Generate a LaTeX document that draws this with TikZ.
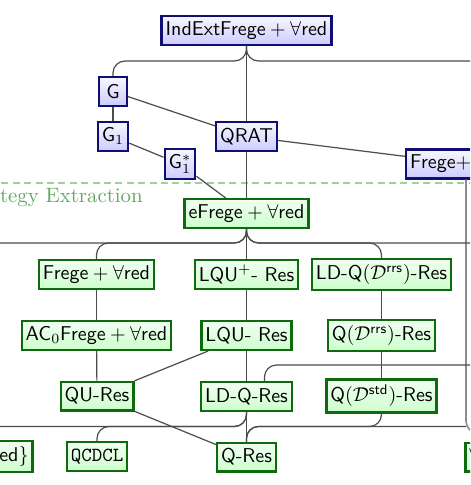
\documentclass[tikz,border=0pt]{standalone}
\usetikzlibrary{calc}
\definecolor{bluebd}{rgb}{0.06,0.06,0.45}
\definecolor{greenbd}{rgb}{0.05,0.42,0.05}
\definecolor{sefg}{rgb}{0.38,0.66,0.38}
\definecolor{sedash}{rgb}{0.62,0.82,0.62}
\definecolor{edgec}{rgb}{0.3,0.3,0.3}
\tikzset{
  psbox/.style={draw, line width=1.2pt, inner xsep=2pt, inner ysep=2.7pt,
    minimum height=14.3pt, minimum width=13.8pt, font=\sffamily},
  bluebox/.style={psbox, draw=bluebd, top color=blue!3, bottom color=blue!20},
  greenbox/.style={psbox, draw=greenbd, top color=green!5, bottom color=green!20},
  conn/.style={draw=edgec, line width=0.6pt},
  fork/.style={conn, rounded corners=6pt},
  greyfork/.style={draw=black!45, line width=0.8pt, rounded corners=6pt},
  sepline/.style={draw=sedash, line width=0.7pt, dash pattern=on 3.5pt off 2.2pt},
}
\begin{document}
\begin{tikzpicture}[x=0.5pt,y=-0.5pt]
\useasboundingbox (0,0) rectangle (470,485);
\fill[white] (0,0) rectangle (470,485);
\clip (0,0) rectangle (470,485);

% level coordinates and off-picture ends
\coordinate (lv1) at (0,61);
\coordinate (lv2) at (0,243);
\coordinate (lv4) at (0,426.5);
\coordinate (offA) at (560,200);
\coordinate (offB) at (-80,300);
\coordinate (offC) at (560,300);
\coordinate (offD) at (560,433);
\coordinate (offE) at (-80,480);
\coordinate (offF) at (560,365);
\coordinate (jR) at (466,426.5);
\coordinate (dl) at (-10,183);
\coordinate (dr) at (480,183);

% strategy extraction separator
\draw[sepline] (dl) -- (dr);
\node[anchor=base east, inner sep=0, text=sefg, font=\fontsize{10.4}{12}\selectfont] (se) at (143,202.5) {Strategy Extraction};

% blue nodes
\node[bluebox] (ind) at (246.5,30.5) {$\mathsf{IndExtFrege}+\forall\mathsf{red}$};
\node[bluebox] (g) at (113,91.5) {G};
\node[bluebox] (g1) at (113,136.5) {$\mathsf{G}_1$};
\node[bluebox] (g1s) at (180,164) {$\mathsf{G}_1^*$};
\node[bluebox] (qrat) at (246.5,136.5) {QRAT};
\node[bluebox, text width=55.8pt, align=left] (fregeb) at (466,164) {Frege+$\forall$red};

% green nodes
\node[greenbox] (efrege) at (246.5,213.5) {$\mathsf{eFrege}+\forall\mathsf{red}$};
\node[greenbox] (fregeg) at (96.5,274.5) {$\mathsf{Frege}+\forall\mathsf{red}$};
\node[greenbox] (lqup) at (246.5,274.5) {LQU$^+$- Res};
\node[greenbox] (ldqrrs) at (381.5,274.5) {LD-Q$(\mathcal{D}^{\mathsf{rrs}})$-Res};
\node[greenbox] (ac0) at (96.5,335.5) {$\mathsf{AC}_0\mathsf{Frege}+\forall\mathsf{red}$};
\node[greenbox] (lqu) at (246.5,335.5) {LQU- Res};
\node[greenbox] (qrrs) at (381.5,335.5) {Q$(\mathcal{D}^{\mathsf{rrs}})$-Res};
\node[greenbox] (qu) at (97,396) {QU-Res};
\node[greenbox] (ldq) at (246.5,396.5) {LD-Q-Res};
\node[greenbox] (qstd) at (381.5,396) {Q$(\mathcal{D}^{\mathsf{std}})$-Res};
\node[greenbox] (qcdcl) at (97,456.5) {\texttt{QCDCL}};
\node[greenbox] (qres) at (246.5,457) {Q-Res};
\node[greenbox, anchor=east] (edn) at (33.8,456.5) {$\mathsf{QRAT}\{\forall\mathsf{red}\}$};
\node[greenbox, anchor=west] (aexp) at (464.2,457) {$\forall\mathsf{Exp}+\mathsf{Res}$};

% connectors
\draw[fork] (ind.south) -- (ind.south |- lv1) -| (g.north);
\draw[fork] (ind.south) -- (ind.south |- lv1) -| (offA);
\draw[conn] (ind) -- (qrat);
\draw[conn] (g) -- (qrat);
\draw[conn] (g) -- (g1);
\draw[conn] (g1) -- (g1s);
\draw[conn] (g1s) -- (efrege);
\draw[conn] (qrat) -- (fregeb);
\draw[conn] (qrat) -- (efrege);
\draw[greyfork] (fregeb.south) |- (offD);

\draw[fork] (efrege.south) -- (efrege.south |- lv2) -| (fregeg.north);
\draw[fork] (efrege.south) -- (efrege.south |- lv2) -| (ldqrrs.north);
\draw[fork] (efrege.south) -- (efrege.south |- lv2) -| (offB);
\draw[fork] (efrege.south) -- (efrege.south |- lv2) -| (offC);
\draw[conn] (efrege) -- (lqup);

\draw[conn] (fregeg) -- (ac0);
\draw[conn] (ac0) -- (qu);
\draw[conn] (lqup) -- (lqu);
\draw[conn] (lqu) -- (qu);
\draw[conn] (lqu) -- (ldq);
\draw[conn] (ldqrrs) -- (qrrs);
\draw[conn] (qrrs) -- (qstd);
\draw[fork] (offF) -| ($(ldq.north)+(18,0)$);

\draw[conn] (qu) -- (qres);
\draw[conn] (ldq) -- (qres);
\draw[fork] (ldq.south) -- (ldq.south |- lv4) -| (qcdcl.north);
\draw[fork] (ldq.south) -- (ldq.south |- lv4) -| (offE);
\draw[fork] (qstd.south) -- (qstd.south |- lv4) -| (qres.north);
\draw[fork] (jR) -| (qres.north);
\end{tikzpicture}
\end{document}
